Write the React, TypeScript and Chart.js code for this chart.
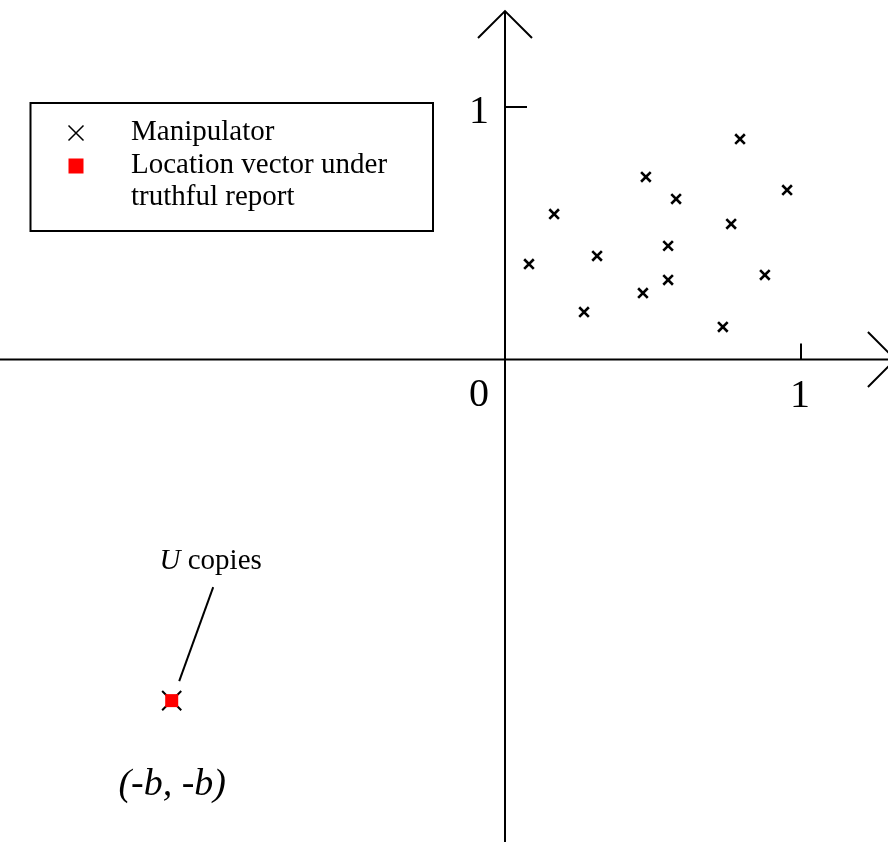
import React, { useEffect, useRef } from "react";
import { Chart, registerables } from "chart.js";

Chart.register(...registerables);

// ---- data ----
const manipulatorX = [0.794, 0.476, 0.953, 0.578, 0.166, 0.764, 0.551, 0.311, 0.081, 0.878, 0.551, 0.466, 0.267, 0.736];
const manipulatorY = [0.873, 0.723, 0.671, 0.636, 0.576, 0.537, 0.45, 0.41, 0.378, 0.335, 0.315, 0.263, 0.188, 0.129];
const truthfulX = [-1.126];
const truthfulY = [-1.351];
const xTickValues = [1];
const yTickValues = [1];
const xTickLabels = ["1"];
const yTickLabels = ["1"];
const originLabel = "0";
const legendLabels = ["Manipulator", "Location vector under", "truthful report"];
const annotationItalic = "U";
const annotationRest = "copies";
const pointLabel = "(-b, -b)";

const SERIF = '"Liberation Serif", "Times New Roman", serif';

const axesPlugin = {
  id: "customAxes",
  beforeDatasetsDraw(chart: any) {
    const { ctx, width, height } = chart;
    const xs = chart.scales.x;
    const ys = chart.scales.y;
    const x0 = xs.getPixelForValue(0);
    const y0 = ys.getPixelForValue(0);
    ctx.save();
    ctx.strokeStyle = "#000";
    ctx.lineWidth = 2;
    ctx.lineCap = "butt";
    // x axis
    ctx.beginPath();
    ctx.moveTo(0, y0);
    ctx.lineTo(width, y0);
    ctx.stroke();
    const xt = xs.getPixelForValue(1.319);
    ctx.beginPath();
    ctx.moveTo(xt - 27.5, y0 - 27.5);
    ctx.lineTo(xt, y0);
    ctx.lineTo(xt - 27.5, y0 + 27.5);
    ctx.stroke();
    // y axis
    const yt = ys.getPixelForValue(1.38);
    ctx.beginPath();
    ctx.moveTo(x0, height);
    ctx.lineTo(x0, yt);
    ctx.stroke();
    ctx.beginPath();
    ctx.moveTo(x0 - 27, yt + 27);
    ctx.lineTo(x0, yt);
    ctx.lineTo(x0 + 27, yt + 27);
    ctx.stroke();
    // ticks
    ctx.fillStyle = "#000";
    ctx.font = `40px ${SERIF}`;
    ctx.textAlign = "center";
    ctx.textBaseline = "alphabetic";
    xTickValues.forEach((v, i) => {
      const px = xs.getPixelForValue(v);
      ctx.beginPath();
      ctx.moveTo(px, y0);
      ctx.lineTo(px, y0 - 16);
      ctx.stroke();
      ctx.fillText(xTickLabels[i], px - 1, y0 + 47);
    });
    yTickValues.forEach((v, i) => {
      const py = ys.getPixelForValue(v);
      ctx.beginPath();
      ctx.moveTo(x0, py);
      ctx.lineTo(x0 + 22, py);
      ctx.stroke();
      ctx.fillText(yTickLabels[i], x0 - 26, py + 16);
    });
    ctx.fillText(originLabel, x0 - 26, y0 + 46);
    ctx.restore();
  },
  afterDraw(chart: any) {
    const { ctx } = chart;
    const xs = chart.scales.x;
    const ys = chart.scales.y;
    ctx.save();
    // legend box
    ctx.strokeStyle = "#000";
    ctx.lineWidth = 2;
    ctx.strokeRect(30.5, 103, 402.5, 128);
    // legend markers
    ctx.lineWidth = 1.5;
    ctx.beginPath();
    ctx.moveTo(68.5, 125.5);
    ctx.lineTo(83.5, 140.5);
    ctx.moveTo(83.5, 125.5);
    ctx.lineTo(68.5, 140.5);
    ctx.stroke();
    ctx.fillStyle = "#ff0000";
    ctx.fillRect(68.5, 158.5, 15, 15);
    // legend text
    ctx.fillStyle = "#000";
    ctx.font = `29px ${SERIF}`;
    ctx.textAlign = "left";
    ctx.textBaseline = "alphabetic";
    const baselines = [140, 173, 205];
    legendLabels.forEach((t, i) => ctx.fillText(t, 131, baselines[i]));

    // annotation near truthful point
    const px = xs.getPixelForValue(truthfulX[0]);
    const py = ys.getPixelForValue(truthfulY[0]);
    ctx.strokeStyle = "#000";
    ctx.lineWidth = 2;
    ctx.beginPath();
    ctx.moveTo(px + 41.5, py - 113.5);
    ctx.lineTo(px + 7.5, py - 19.5);
    ctx.stroke();
    ctx.font = `29px ${SERIF}`;
    const copiesX = px + 16;
    ctx.fillText(annotationRest, copiesX, py - 131.5);
    const sp = ctx.measureText(" ").width;
    ctx.font = `italic 29px ${SERIF}`;
    ctx.textAlign = "right";
    ctx.fillText(annotationItalic, copiesX - sp, py - 131.5);
    ctx.textAlign = "center";
    ctx.font = `italic 38px ${SERIF}`;
    ctx.fillText(pointLabel, px + 0.5, py + 94.5);
    ctx.restore();
  },
};

export default function App() {
  const ref = useRef<HTMLCanvasElement | null>(null);
  useEffect(() => {
    if (!ref.current) return;
    const chart = new Chart(ref.current, {
      type: "scatter",
      data: {
        datasets: [
          {
            label: "Location vector under truthful report",
            data: truthfulX.map((x, i) => ({ x, y: truthfulY[i] })),
            pointStyle: "rect",
            pointRadius: 9.2,
            pointBackgroundColor: "#ff0000",
            pointBorderWidth: 0,
            order: 0,
            clip: false,
          } as any,
          {
            label: "Manipulator (copies)",
            data: truthfulX.map((x, i) => ({ x, y: truthfulY[i] })),
            pointStyle: "crossRot",
            pointRadius: 13.5,
            pointBorderColor: "#000",
            pointBorderWidth: 2,
            order: 1,
            clip: false,
          } as any,
          {
            label: "Manipulator",
            data: manipulatorX.map((x, i) => ({ x, y: manipulatorY[i] })),
            pointStyle: "crossRot",
            pointRadius: 6.8,
            pointBorderColor: "#000",
            pointBorderWidth: 2.6,
            order: 2,
            clip: false,
          } as any,
        ],
      },
      options: {
        animation: false,
        responsive: false,
        events: [],
        layout: { padding: 0, autoPadding: false },
        plugins: { legend: { display: false }, tooltip: { enabled: false } },
        scales: {
          x: { type: "linear", display: false, min: -505 / 296, max: 383 / 296 },
          y: { type: "linear", display: false, min: -482.5 / 252.5, max: 359.5 / 252.5 },
        },
      },
      plugins: [axesPlugin],
    });
    return () => chart.destroy();
  }, []);
  return (
    <div style={{ position: "absolute", left: 0, top: 0, width: 888, height: 842, background: "#fff" }}>
      <canvas ref={ref} width={888} height={842} style={{ width: 888, height: 842, display: "block" }} />
    </div>
  );
}
